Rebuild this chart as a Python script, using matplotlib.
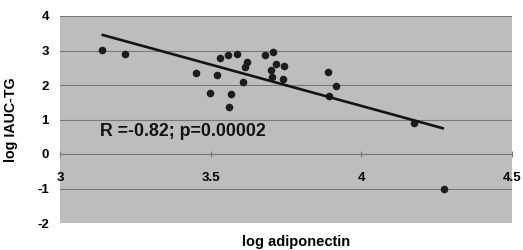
import numpy as np
import matplotlib
matplotlib.use("Agg")
import matplotlib.pyplot as plt

plt.rcParams["font.family"] = ["Liberation Sans", "DejaVu Sans"]
plt.rcParams["font.weight"] = "bold"

# values (log adiponectin vs log IAUC-TG)
log_adiponectin = [3.138, 3.216, 3.452, 3.498, 3.521, 3.531, 3.556, 3.561, 3.568,
                   3.587, 3.607, 3.614, 3.621, 3.680, 3.708, 3.716, 3.700, 3.702,
                   3.743, 3.739, 3.889, 3.917, 3.893, 4.175, 4.274]
log_iauc_tg = [3.01, 2.91, 2.36, 1.76, 2.29, 2.78, 2.87, 1.35, 1.73,
               2.91, 2.08, 2.53, 2.67, 2.87, 2.95, 2.60, 2.43, 2.24,
               2.54, 2.16, 2.39, 1.96, 1.68, 0.90, -1.01]
x_ticks = [3, 3.5, 4, 4.5]
x_tick_labels = ["3", "3.5", "4", "4.5"]
y_ticks = [-2, -1, 0, 1, 2, 3, 4]
stats_text = "R =-0.82; p=0.00002"

x = np.array(log_adiponectin)
y = np.array(log_iauc_tg)
slope, intercept = np.polyfit(x, y, 1)
xfit = np.array([x.min(), x.max()])

fig = plt.figure(figsize=(5.23, 2.5), dpi=100)
ax = fig.add_axes([0.1147, 0.108, 0.8643, 0.828])
ax.set_facecolor("#bdbdbd")

ax.scatter(x, y, s=30, color="#1c1c1c", zorder=3, linewidths=0)
ax.plot(xfit, slope * xfit + intercept, color="#141414", lw=1.9, zorder=4,
        solid_capstyle="butt")

ax.set_xlim(3, 4.5)
ax.set_ylim(-2, 4)
ax.set_yticks(y_ticks)
ax.set_yticklabels([str(v) for v in y_ticks])
ax.set_xticks(x_ticks)
ax.set_xticklabels(x_tick_labels)
ax.get_xticklabels()[-1].set_horizontalalignment("right")

ax.yaxis.grid(True, color="#7a7a7a", lw=0.8)
ax.set_axisbelow(True)
for side in ["top", "right", "left"]:
    ax.spines[side].set_visible(False)
ax.spines["bottom"].set_position(("data", 0))
ax.spines["bottom"].set_color("#7a7a7a")
ax.spines["bottom"].set_linewidth(0.8)
ax.tick_params(axis="y", length=0, pad=8, labelsize=9.5)
ax.tick_params(axis="x", direction="inout", length=4, color="#7a7a7a",
               pad=11, labelsize=9.5)

ax.text(3.132, 0.52, stats_text, fontsize=12.8, fontweight="bold", color="#111111")

ax.yaxis.set_label_coords(-0.092, 0.5)
ax.set_ylabel("log IAUC-TG", fontsize=10.3, fontweight="bold")
fig.text(0.566, 0.033, "log adiponectin", ha="center", va="center",
         fontsize=10.5, fontweight="bold")

fig.savefig("out.png", dpi=100)
